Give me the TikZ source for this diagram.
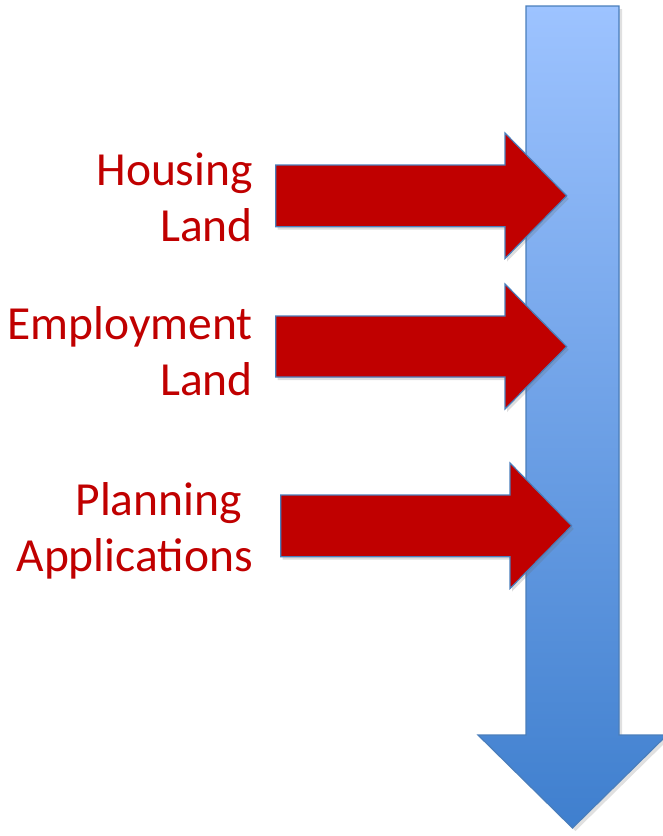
\documentclass[tikz,border=0pt]{standalone}
\usepackage{fontspec}
\setmainfont{Carlito}
\usetikzlibrary{shadows}
\definecolor{arrowred}{HTML}{C00000}
\definecolor{edgeblue}{HTML}{4A7EBB}
\definecolor{toplight}{HTML}{9DC3FF}
\definecolor{botdark}{HTML}{3F7FCE}
\tikzset{
  redarrow/.style={fill=arrowred, draw=edgeblue, line width=1.2pt, line join=miter,
    drop shadow={shadow xshift=2pt, shadow yshift=-3pt, opacity=0.22, fill=black!60}},
  bluearrow/.style={top color=toplight, bottom color=botdark, draw=edgeblue, line width=1.2pt,
    drop shadow={shadow xshift=3pt, shadow yshift=-3pt, opacity=0.2, fill=black!60}},
  lbl/.style={text=arrowred, font=\fontsize{47.5}{57}\selectfont, inner sep=0pt, anchor=base east}
}
\begin{document}
\begin{tikzpicture}[x=1pt,y=-1pt]
\useasboundingbox (0,0) rectangle (663,836);
\clip (0,0) rectangle (663,836);
% blue downward arrow
\path[bluearrow] (526,6) -- (619,6) -- (619,735) -- (667,735) -- (572.5,828) -- (478,735) -- (526,735) -- cycle;
% red arrows
\path[redarrow] (275.7,165) -- (505,165) -- (505,133) -- (566.7,195.8) -- (505,258.5) -- (505,226.7) -- (275.7,226.7) -- cycle;
\path[redarrow] (275.7,316) -- (505,316) -- (505,284) -- (566.7,346.6) -- (505,409) -- (505,377) -- (275.7,377) -- cycle;
\path[redarrow] (280.7,495) -- (510,495) -- (510,463) -- (571.7,525.8) -- (510,588.5) -- (510,556.7) -- (280.7,556.7) -- cycle;
% labels
\node[lbl] (h1) at (253,185) {Housing};
\node[lbl] (h2) at (253,241.7) {Land};
\node[lbl] (e1) at (253,339) {Employment};
\node[lbl] (e2) at (253,395) {Land};
\node[lbl] (p1) at (242,515.7) {Planning};
\node[lbl] (p2) at (253,571.7) {Applications};
\end{tikzpicture}
\end{document}
